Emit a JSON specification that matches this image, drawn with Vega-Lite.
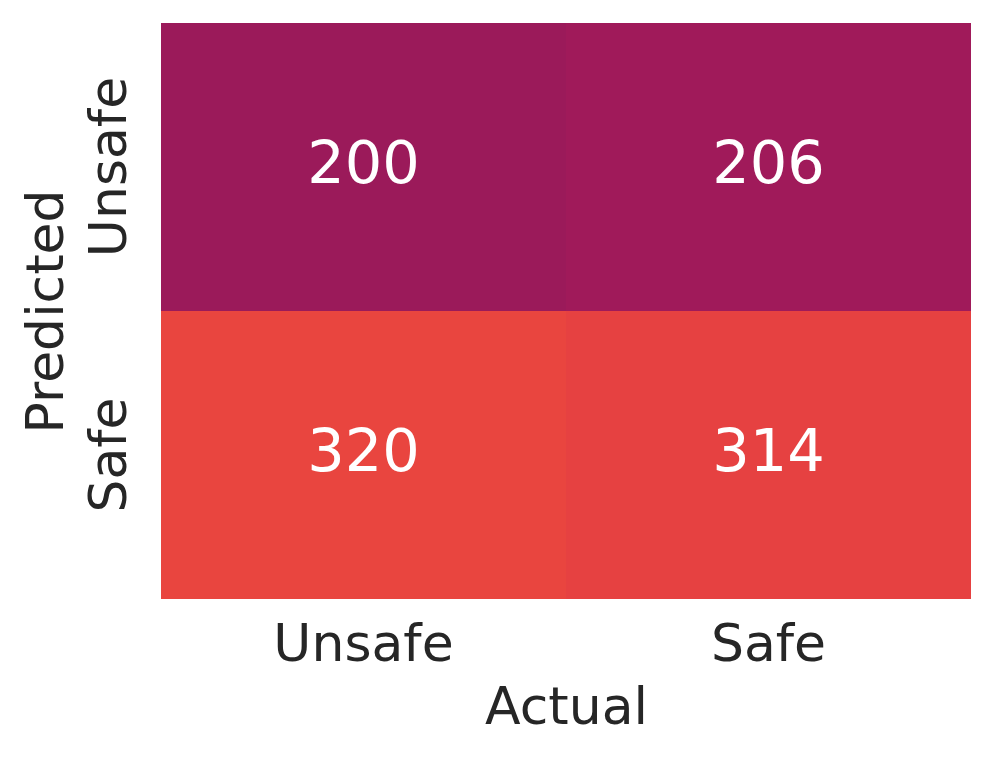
{
  "$schema": "https://vega.github.io/schema/vega-lite/v6.json",
  "width": 810,
  "height": 576,
  "autosize": "none",
  "padding": {"left": 161, "top": 23, "right": 24, "bottom": 161},
  "background": "white",
  "config": {"view": {"stroke": null}, "font": "DejaVu Sans"},
  "data": {"values": [
    {"Actual": "Unsafe", "Predicted": "Unsafe", "count": 200},
    {"Actual": "Safe", "Predicted": "Unsafe", "count": 206},
    {"Actual": "Unsafe", "Predicted": "Safe", "count": 320},
    {"Actual": "Safe", "Predicted": "Safe", "count": 314}
  ]},
  "encoding": {
    "x": {"field": "Actual", "type": "nominal", "sort": ["Unsafe", "Safe"],
      "scale": {"paddingInner": 0, "paddingOuter": 0},
      "axis": {"domain": false, "ticks": false, "labelAngle": 0, "labelLimit": 0, "labelFontSize": 52, "labelColor": "#262626", "labelPadding": 20, "title": "Actual", "titleFontSize": 52, "titleFontWeight": "normal", "titleColor": "#262626", "titlePadding": 12}},
    "y": {"field": "Predicted", "type": "nominal", "sort": ["Unsafe", "Safe"],
      "scale": {"paddingInner": 0, "paddingOuter": 0},
      "axis": {"domain": false, "ticks": false, "labelAngle": 270, "labelLimit": 0, "labelAlign": "center", "labelBaseline": "bottom", "labelFontSize": 52, "labelColor": "#262626", "labelPadding": 25, "title": "Predicted", "titleFontSize": 52, "titleFontWeight": "normal", "titleColor": "#262626", "titlePadding": 10}}
  },
  "layer": [
    {"mark": {"type": "rect"},
     "encoding": {"color": {"field": "count", "type": "quantitative", "scale": {"domain": [200, 320], "range": ["#9b1a5a", "#e9453f"]}, "legend": null}}},
    {"mark": {"type": "text", "fontSize": 59, "color": "white", "dy": -2},
     "encoding": {"text": {"field": "count", "type": "quantitative"}}}
  ]
}
